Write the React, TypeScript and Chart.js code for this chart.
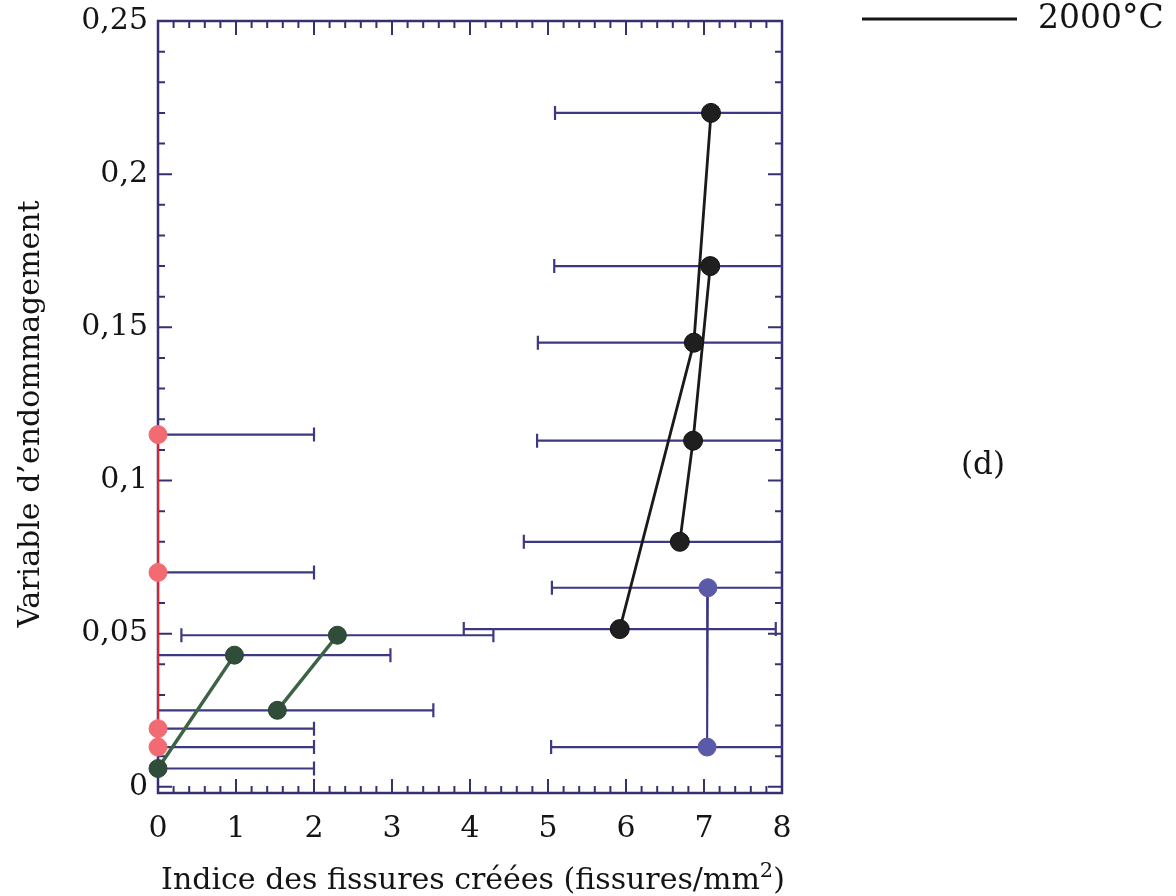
import React, { useEffect, useRef } from 'react';
import { Chart, registerables } from 'chart.js';

Chart.register(...registerables);

// ---- data ----
const X_TICKS = [0, 1, 2, 3, 4, 5, 6, 7, 8];
const X_TICK_LABELS = ['0', '1', '2', '3', '4', '5', '6', '7', '8'];
const Y_TICKS = [0, 0.05, 0.1, 0.15, 0.2, 0.25];
const Y_TICK_LABELS = ['0', '0,05', '0,1', '0,15', '0,2', '0,25'];

const RED_X = [0, 0, 0, 0];
const RED_Y = [0.115, 0.07, 0.019, 0.013];
const RED_ERR = [2, 2, 2, 2];

const GREEN_A_X = [0, 0.98];
const GREEN_A_Y = [0.006, 0.043];
const GREEN_A_ERR = [2, 2];

const GREEN_B_X = [1.53, 2.3];
const GREEN_B_Y = [0.025, 0.0495];
const GREEN_B_ERR = [2, 2];

const BLACK_A_X = [7.09, 6.87, 5.92];
const BLACK_A_Y = [0.22, 0.145, 0.0515];
const BLACK_A_ERR = [2, 2, 2];

const BLACK_B_X = [7.08, 6.86, 6.69];
const BLACK_B_Y = [0.17, 0.113, 0.08];
const BLACK_B_ERR = [2, 2, 2];

const BLUE_X = [7.05, 7.04];
const BLUE_Y = [0.065, 0.013];
const BLUE_ERR = [2, 2];

const LEGEND_LABEL = '2000°C';
const PANEL_LABEL = '(d)';
const X_TITLE_MAIN = 'Indice des fissures créées (fissures/mm';
const X_TITLE_SUP = '2';
const X_TITLE_END = ')';
const Y_TITLE = 'Variable d’endommagement';

const X_MIN = 0;
const X_MAX = 8;
const Y_MIN = -0.002;
const Y_MAX = 0.25;
const X_MINOR_STEP = 0.2;
const Y_MINOR_STEP = 0.01;

// ---- styles ----
const FONT = "'DejaVu Serif', 'Liberation Serif', serif";
const AXIS_COLOR = '#363070';
const BAR_COLOR = '#3d3884';

const pts = (xs: number[], ys: number[]) => xs.map((x, i) => ({ x, y: ys[i] }));

const framePlugin = {
  id: 'frame',
  beforeDatasetsDraw(chart: any) {
    const { ctx, chartArea: a, scales } = chart;
    const xs = scales.x;
    const ys = scales.y;
    ctx.save();
    // box
    ctx.strokeStyle = AXIS_COLOR;
    ctx.lineWidth = 2.5;
    ctx.strokeRect(a.left, a.top, a.right - a.left, a.bottom - a.top);
    // ticks
    ctx.lineWidth = 2;
    ctx.beginPath();
    const nx = Math.round((X_MAX - X_MIN) / X_MINOR_STEP);
    for (let i = 0; i <= nx; i++) {
      const v = X_MIN + i * X_MINOR_STEP;
      const px = xs.getPixelForValue(v);
      const len = i % 5 === 0 ? 14 : 7;
      ctx.moveTo(px, a.bottom);
      ctx.lineTo(px, a.bottom - len);
      ctx.moveTo(px, a.top);
      ctx.lineTo(px, a.top + len);
    }
    const ny = Math.round(0.25 / Y_MINOR_STEP);
    for (let i = 0; i <= ny; i++) {
      const v = i * Y_MINOR_STEP;
      const py = ys.getPixelForValue(v);
      const len = i % 5 === 0 ? 14 : 7;
      ctx.moveTo(a.left, py);
      ctx.lineTo(a.left + len, py);
      ctx.moveTo(a.right, py);
      ctx.lineTo(a.right - len, py);
    }
    ctx.stroke();

    // error bars (clipped to plot area)
    ctx.beginPath();
    ctx.rect(a.left - 1, a.top, a.right - a.left + 2, a.bottom - a.top);
    ctx.clip();
    ctx.strokeStyle = BAR_COLOR;
    ctx.lineWidth = 2.2;
    chart.data.datasets.forEach((ds: any) => {
      const errs = ds.xErr || [];
      ds.data.forEach((p: any, i: number) => {
        const e = errs[i];
        if (!e) return;
        const py = ys.getPixelForValue(p.y);
        const x1 = xs.getPixelForValue(p.x - e);
        const x2 = xs.getPixelForValue(p.x + e);
        ctx.beginPath();
        ctx.moveTo(x1, py);
        ctx.lineTo(x2, py);
        ctx.moveTo(x1, py - 7);
        ctx.lineTo(x1, py + 7);
        ctx.moveTo(x2, py - 7);
        ctx.lineTo(x2, py + 7);
        ctx.stroke();
      });
    });
    ctx.restore();
  },
  afterDraw(chart: any) {
    const { ctx } = chart;
    ctx.save();
    ctx.fillStyle = '#141414';
    // x title with superscript
    const mainFont = `30px ${FONT}`;
    const supFont = `21px ${FONT}`;
    ctx.font = mainFont;
    const w1 = ctx.measureText(X_TITLE_MAIN).width;
    const w3 = ctx.measureText(X_TITLE_END).width;
    ctx.font = supFont;
    const w2 = ctx.measureText(X_TITLE_SUP).width;
    const total = w1 + w2 + w3;
    const cx = 473;
    const x0 = cx - total / 2;
    const base = 889;
    ctx.textBaseline = 'alphabetic';
    ctx.textAlign = 'left';
    ctx.font = mainFont;
    ctx.fillText(X_TITLE_MAIN, x0, base);
    ctx.font = supFont;
    ctx.fillText(X_TITLE_SUP, x0 + w1, base - 12);
    ctx.font = mainFont;
    ctx.fillText(X_TITLE_END, x0 + w1 + w2, base);

    // y title
    ctx.save();
    ctx.translate(31, 414);
    ctx.rotate(-Math.PI / 2);
    ctx.textAlign = 'center';
    ctx.textBaseline = 'middle';
    ctx.font = mainFont;
    ctx.fillText(Y_TITLE, 0, 0);
    ctx.restore();

    // legend
    ctx.strokeStyle = '#151515';
    ctx.lineWidth = 3;
    ctx.beginPath();
    ctx.moveTo(862, 19);
    ctx.lineTo(1017, 19);
    ctx.stroke();
    ctx.font = `33px ${FONT}`;
    ctx.textAlign = 'left';
    ctx.textBaseline = 'middle';
    ctx.fillText(LEGEND_LABEL, 1038, 19);

    // panel label
    ctx.font = `31px ${FONT}`;
    ctx.textAlign = 'center';
    ctx.fillText(PANEL_LABEL, 983, 466);
    ctx.restore();
  },
};

export default function App() {
  const ref = useRef<HTMLCanvasElement | null>(null);

  useEffect(() => {
    if (!ref.current) return;
    const mk = (label: string, xs: number[], ys: number[], errs: number[], line: string, lw: number, fill: string, stroke: string, r: number) => ({
      label,
      data: pts(xs, ys),
      xErr: errs,
      showLine: true,
      borderColor: line,
      borderWidth: lw,
      pointBackgroundColor: fill,
      pointBorderColor: stroke,
      pointBorderWidth: 1,
      pointRadius: r,
      clip: false,
    });
    const chart = new Chart(ref.current, {
      type: 'scatter',
      data: {
        datasets: [
          mk('red', RED_X, RED_Y, RED_ERR, '#e0202e', 2, '#f26b72', '#f26b72', 9),
          mk('greenA', GREEN_A_X, GREEN_A_Y, GREEN_A_ERR, '#3b6344', 3.5, '#2f4d38', '#2a4532', 9),
          mk('greenB', GREEN_B_X, GREEN_B_Y, GREEN_B_ERR, '#3b6344', 3.5, '#2f4d38', '#2a4532', 9),
          mk(LEGEND_LABEL, BLACK_A_X, BLACK_A_Y, BLACK_A_ERR, '#1a1a1a', 2.8, '#1f1f1f', '#111', 9.5),
          mk(LEGEND_LABEL + ' b', BLACK_B_X, BLACK_B_Y, BLACK_B_ERR, '#1a1a1a', 2.8, '#1f1f1f', '#111', 9.5),
          mk('blue', BLUE_X, BLUE_Y, BLUE_ERR, '#3a3580', 2, '#5b5aa8', '#5b5aa8', 9),
        ] as any,
      },
      options: {
        responsive: false,
        animation: false,
        events: [],
        layout: { padding: { left: 0, top: 21, right: 394, bottom: 0 } },
        plugins: {
          legend: { display: false },
          tooltip: { enabled: false },
        },
        scales: {
          x: {
            type: 'linear',
            min: X_MIN,
            max: X_MAX,
            grid: { display: false, drawTicks: false },
            border: { display: false },
            afterBuildTicks: (s: any) => {
              s.ticks = X_TICKS.map((v) => ({ value: v }));
            },
            afterFit: (s: any) => {
              s.height = 103;
              s.paddingLeft = 0;
              s.paddingRight = 0;
            },
            ticks: {
              autoSkip: false,
              maxRotation: 0,
              padding: 18,
              color: '#141414',
              font: { family: FONT, size: 30 },
              callback: (v: any) => {
                const i = X_TICKS.indexOf(Number(v));
                return i >= 0 ? X_TICK_LABELS[i] : '';
              },
            },
          },
          y: {
            type: 'linear',
            min: Y_MIN,
            max: Y_MAX,
            grid: { display: false, drawTicks: false },
            border: { display: false },
            afterBuildTicks: (s: any) => {
              s.ticks = Y_TICKS.map((v) => ({ value: v }));
            },
            afterFit: (s: any) => {
              s.width = 158;
              s.paddingTop = 0;
              s.paddingBottom = 0;
            },
            ticks: {
              autoSkip: false,
              padding: 10,
              color: '#141414',
              font: { family: FONT, size: 30 },
              callback: (v: any) => {
                const i = Y_TICKS.findIndex((t) => Math.abs(t - Number(v)) < 1e-9);
                return i >= 0 ? Y_TICK_LABELS[i] : '';
              },
            },
          },
        },
      } as any,
      plugins: [framePlugin],
    });
    return () => chart.destroy();
  }, []);

  return (
    <div style={{ position: 'absolute', left: 0, top: 0, width: 1176, height: 896, background: '#fff' }}>
      <canvas ref={ref} width={1176} height={896} style={{ display: 'block' }} />
    </div>
  );
}
